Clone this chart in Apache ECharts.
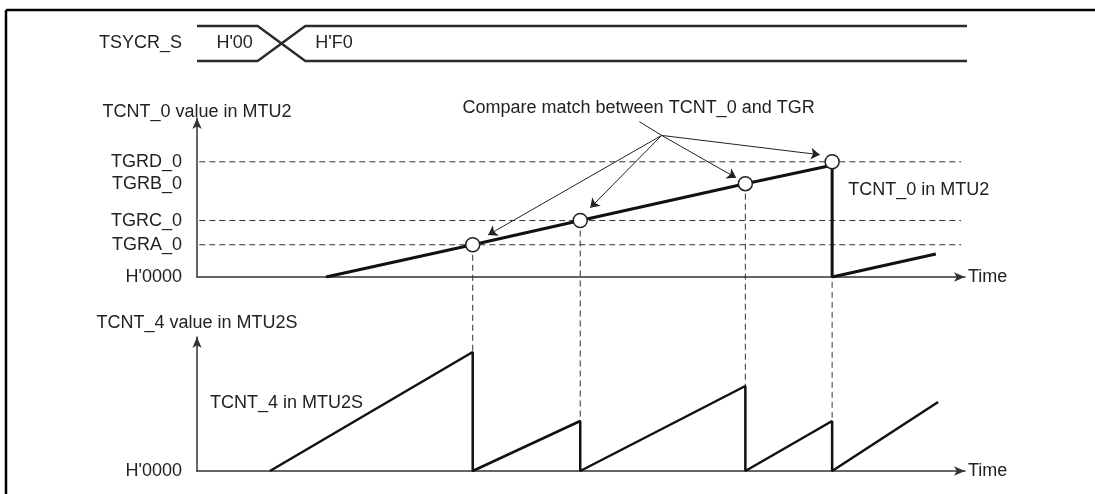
<!DOCTYPE html>
<html>
<head>
<meta charset="utf-8">
<script src="https://cdn.jsdelivr.net/npm/echarts@6/dist/echarts.min.js"></script>
<style>
    html, body { margin: 0; padding: 0; background: #fff; overflow: hidden; }
    #main { width: 1095px; height: 494px; }
</style>
</head>
<body>
<div id="main"></div>
<script>
    // time axis is 0..100 (arbitrary units), counter values in arbitrary counts
    var matchNames = ['TGRA_0', 'TGRC_0', 'TGRB_0', 'TGRD_0'];
    var matchTimes = [35.9, 49.9, 71.4, 82.7];
    var matchValues = [28, 49, 81, 100];
    var dashedLevels = [28, 49, 100];
    var zeroLabel = "H'0000";

    var tcnt0Line = [[16.8, 0], [35.9, 28], [49.9, 49], [71.4, 81], [82.7, 97], [82.7, 0], [96.2, 20]];
    var tcnt4Peaks = [119, 50, 85, 50];
    var tcnt4Line = [[9.5, 0], [35.9, 119], [35.9, 0], [49.9, 50], [49.9, 0], [71.4, 85], [71.4, 0], [82.7, 50], [82.7, 0], [96.5, 69]];

    var busName = 'TSYCR_S';
    var busValues = ["H'00", "H'F0"];
    var busChange = [7.9, 14.1];
    var busEnd = 100.5;

    var ink = '#222';
    var font = 'Liberation Sans, Arial, Helvetica, sans-serif';

    function hiddenAxis(grid) {
        return { gridIndex: grid, type: 'value', min: 0, max: 100, show: false };
    }

    function timeAxis(grid) {
        return {
            gridIndex: grid, type: 'value', min: 0, max: 100,
            name: 'Time', nameLocation: 'end', nameGap: 3,
            nameTextStyle: { fontSize: 18, color: ink, align: 'left', verticalAlign: 'middle' },
            axisLine: { show: true, symbol: ['none', 'arrow'], symbolSize: [7, 11], lineStyle: { color: '#333', width: 1.5 } },
            axisTick: { show: false },
            axisLabel: { show: false },
            splitLine: { show: false }
        };
    }

    function counterAxis(grid, name, max, gap, values, fmt) {
        return {
            gridIndex: grid, type: 'value', min: 0, max: max,
            name: name, nameLocation: 'end', nameGap: gap,
            nameTextStyle: { fontSize: 18, color: ink, align: 'center', verticalAlign: 'middle' },
            axisLine: { show: true, symbol: ['none', 'arrow'], symbolSize: [7, 11], lineStyle: { color: '#333', width: 1.5 } },
            axisTick: { show: false },
            splitLine: { show: false },
            axisLabel: { customValues: values, formatter: fmt, margin: 15, fontSize: 18, color: ink }
        };
    }

    function textPoint(name, value, align) {
        return {
            name: name, value: value,
            label: { show: true, position: align === 'left' ? 'right' : 'inside', distance: 0, formatter: '{b}', fontSize: 18, color: ink }
        };
    }

    var busA = [[0, 1], [busChange[0], 1], [busChange[1], 0], [busEnd, 0]];
    var busB = [[0, 0], [busChange[0], 0], [busChange[1], 1], [busEnd, 1]];

    // arrows of the "compare match" callout
    var hub = [60.5, 122.9];
    var arrowTips = [[37.9, 36.5], [51.2, 60], [70.2, 86.1], [81.1, 106.1]];

    var series = [
        { type: 'line', xAxisIndex: 0, yAxisIndex: 0, data: busA, symbol: 'none', clip: false, lineStyle: { color: '#2a2a2a', width: 2.4 } },
        { type: 'line', xAxisIndex: 0, yAxisIndex: 0, data: busB, symbol: 'none', clip: false, lineStyle: { color: '#2a2a2a', width: 2.4 } },
        {
            type: 'scatter', xAxisIndex: 0, yAxisIndex: 0, symbolSize: 0, clip: false, silent: true,
            itemStyle: { opacity: 1 },
            data: [textPoint(busValues[0], [4.9, 0.5]), textPoint(busValues[1], [15.4, 0.5], 'left')]
        }
    ];

    dashedLevels.forEach(function (v) {
        series.push({
            type: 'line', xAxisIndex: 1, yAxisIndex: 1, symbol: 'none',
            data: [[0.3, v], [99.5, v]],
            lineStyle: { color: '#333', width: 1, type: [6, 4] }
        });
    });

    series.push(
        { type: 'line', xAxisIndex: 1, yAxisIndex: 1, data: tcnt0Line, symbol: 'none', z: 4, lineStyle: { color: '#111', width: 3 } },
        { type: 'line', xAxisIndex: 2, yAxisIndex: 2, data: tcnt4Line, symbol: 'none', z: 4, lineStyle: { color: '#111', width: 2.5 } },
        {
            type: 'scatter', xAxisIndex: 1, yAxisIndex: 1, symbol: 'circle', symbolSize: 14, z: 6,
            itemStyle: { color: '#fff', borderColor: ink, borderWidth: 1.5, opacity: 1 },
            data: matchTimes.map(function (t, i) { return [t, matchValues[i]]; })
        },
        {
            type: 'lines', coordinateSystem: 'cartesian2d', xAxisIndex: 1, yAxisIndex: 1, z: 5,
            symbol: ['none', 'arrow'], symbolSize: 9,
            lineStyle: { color: ink, width: 1, opacity: 1 },
            data: arrowTips.map(function (tip) { return { coords: [hub, tip] }; })
        },
        {
            type: 'lines', coordinateSystem: 'cartesian2d', xAxisIndex: 1, yAxisIndex: 1, z: 5,
            symbol: 'none',
            lineStyle: { color: ink, width: 1, opacity: 1 },
            data: [{ coords: [[57.6, 134.8], hub] }]
        },
        {
            type: 'scatter', xAxisIndex: 1, yAxisIndex: 1, symbolSize: 0, clip: false, silent: true,
            itemStyle: { opacity: 1 },
            data: [
                textPoint('Compare match between TCNT_0 and TGR', [57.5, 147]),
                textPoint('TCNT_0 in MTU2', [84.8, 75.7], 'left')
            ]
        },
        {
            type: 'scatter', xAxisIndex: 2, yAxisIndex: 2, symbolSize: 0, clip: false, silent: true,
            itemStyle: { opacity: 1 },
            data: [textPoint('TCNT_4 in MTU2S', [1.7, 68], 'left')]
        }
    );

    var option = {
        animation: false,
        textStyle: { fontFamily: font },
        graphic: [
            { type: 'line', shape: { x1: 6, y1: 10, x2: 6, y2: 494 }, style: { stroke: '#000', lineWidth: 2.5 } },
            { type: 'line', shape: { x1: 6, y1: 10, x2: 1095, y2: 10 }, style: { stroke: '#000', lineWidth: 2.5 } }
        ],
        grid: [
            { left: 197, width: 768, top: 26, height: 35, outerBoundsMode: 'none' },
            { left: 197, width: 768, top: 118, height: 159, outerBoundsMode: 'none' },
            { left: 197, width: 768, top: 337, height: 134, outerBoundsMode: 'none' }
        ],
        xAxis: [hiddenAxis(0), timeAxis(1), timeAxis(2)],
        yAxis: [
            {
                gridIndex: 0, type: 'value', min: 0, max: 1,
                axisLine: { show: false }, axisTick: { show: false }, splitLine: { show: false },
                axisLabel: { customValues: [0.5], formatter: function () { return busName; }, margin: 15, fontSize: 18, color: ink }
            },
            counterAxis(1, 'TCNT_0 value in MTU2', 138, 6, [0].concat(matchValues), function (v) {
                return v === 0 ? zeroLabel : matchNames[matchValues.indexOf(v)];
            }),
            counterAxis(2, 'TCNT_4 value in MTU2S', 134, 14, [0], function () { return zeroLabel; })
        ],
        series: series
    };

    var chart = echarts.init(document.getElementById('main'));
    chart.setOption(option);

    // dashed links from each compare match down to the MTU2S counter peak
    var links = matchTimes.map(function (t, i) {
        var peakPx = chart.convertToPixel({ xAxisIndex: 2, yAxisIndex: 2 }, [t, tcnt4Peaks[i]]);
        var peakUpper = chart.convertFromPixel({ xAxisIndex: 1, yAxisIndex: 1 }, peakPx);
        return {
            id: 'link' + i, type: 'line', xAxisIndex: 1, yAxisIndex: 1, symbol: 'none', clip: false, z: 1,
            data: [[t, matchValues[i]], [t, peakUpper[1]]],
            lineStyle: { color: '#333', width: 1, type: [6, 4] }
        };
    });
    chart.setOption({ series: links });
</script>
</body>
</html>
